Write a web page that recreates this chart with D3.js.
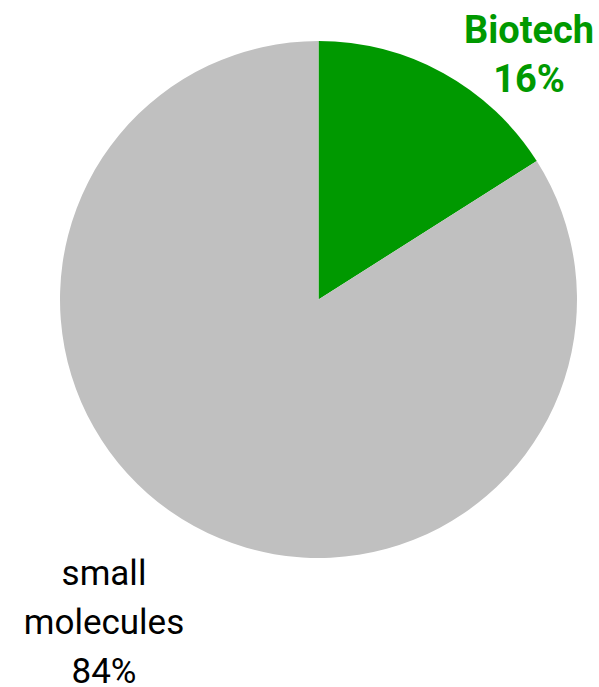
<!DOCTYPE html>
<html><head><meta charset="utf-8">
<script src="https://cdn.jsdelivr.net/npm/d3@7"></script>
<style>html,body{margin:0;padding:0;background:#fff}</style>
</head><body>
<svg id="c" width="599" height="687"></svg>
<script>
const categories = ["Biotech", "small molecules"];
const values = [16, 84];
const colors = ["#009900", "#c0c0c0"];
const labelLines = [["Biotech", "16%"], ["small", "molecules", "84%"]];

const svg = d3.select("#c");
const cx = 318.5, cy = 299.5, r = 258.5;
const pie = d3.pie().sort(null).value(d => d)(values);
const arc = d3.arc().innerRadius(0).outerRadius(r);
const g = svg.append("g").attr("transform", `translate(${cx},${cy})`);
g.selectAll("path").data(pie).join("path")
  .attr("d", arc).attr("fill", (d, i) => colors[i]);

const labelPos = [
  {x: 529, y: 43, size: 38, bold: true, color: "#009900"},
  {x: 104, y: 585, size: 35, bold: false, color: "#000"}
];
labelLines.forEach((lines, i) => {
  const p = labelPos[i];
  const t = svg.append("text").attr("text-anchor", "middle")
    .attr("font-family", "Roboto").attr("font-size", p.size)
    .attr("font-weight", p.bold ? "bold" : "normal").attr("fill", p.color);
  lines.forEach((l, k) => t.append("tspan").attr("x", p.x).attr("y", p.y + k * 49).text(l));
});
</script>
</body></html>
